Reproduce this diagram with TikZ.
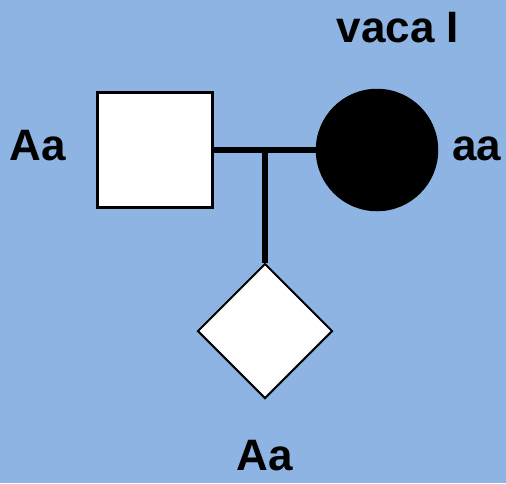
\documentclass[tikz,border=0pt]{standalone}
\usepackage{fontspec}
\setmainfont{Liberation Sans}
\definecolor{pedblue}{RGB}{141, 180, 226}
\usetikzlibrary{shapes.geometric, positioning}
\tikzset{
    malebox/.style={draw, line width=2.5pt, fill=white, rectangle, minimum size=115pt, inner sep=0pt},
    femalebox/.style={draw, line width=2.5pt, fill=black, circle, minimum size=120pt, inner sep=0pt},
    childbox/.style={draw, line width=2pt, fill=white, diamond, aspect=1, minimum size=135pt, inner sep=0pt},
    geno/.style={font=\fontsize{44}{50}\selectfont\bfseries, inner sep=0pt, anchor=base},
    matingline/.style={line width=5.5pt},
}
\begin{document}
\begin{tikzpicture}[x=1pt, y=-1pt]
    \fill[pedblue] (0,0) rectangle (506,483);
    \useasboundingbox (0,0) rectangle (506,483);
    % Parents and child
    \node[malebox] (father) at (155,150) {};
    \node[femalebox] (mother) at (377,150) {};
    \node[childbox] (child) at (265,331) {};
    \coordinate (mid) at (265,150);
    % Lines
    \draw[matingline] (father.east) -- (mother.west);
    \draw[matingline] (mid) -- (child.north);
    % Genotypes
    \node[geno] (gfather) at (38,160) {Aa};
    \node[geno] (gmother) at (477,160) {aa};
    \node[geno] (gchild) at (265,470) {Aa};
    \node[geno] (name) at (398,42) {vaca I};
\end{tikzpicture}
\end{document}
